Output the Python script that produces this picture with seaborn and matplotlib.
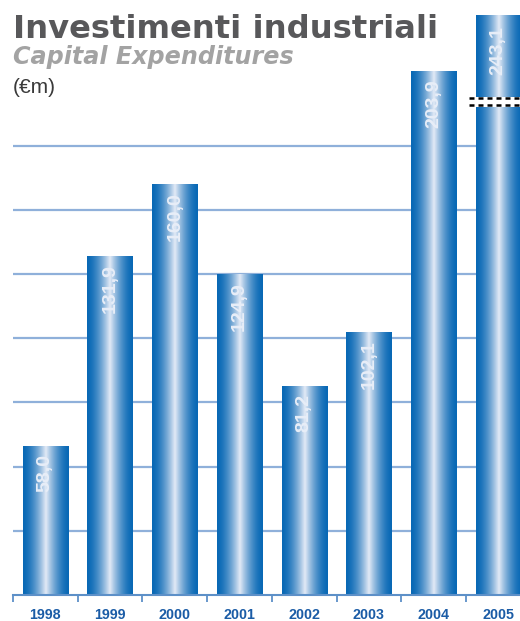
import numpy as np
import pandas as pd
import matplotlib
matplotlib.use("Agg")
import matplotlib.pyplot as plt
import seaborn as sns
from matplotlib.colors import to_rgb

# Capital expenditures, € millions
years = ["1998", "1999", "2000", "2001", "2002", "2003", "2004", "2005"]
capex = [58.0, 131.9, 160.0, 124.9, 81.2, 102.1, 203.9, 243.1]
value_labels = ["58,0", "131,9", "160,0", "124,9", "81,2", "102,1", "203,9", "243,1"]
grid_values = [25, 50, 75, 100, 125, 150, 175]

title = "Investimenti industriali"
subtitle = "Capital Expenditures"
unit = "(€m)"

sns.set_theme(style="white")
plt.rcParams["font.family"] = ["Liberation Sans", "DejaVu Sans"]

W, H = 520, 621
fig = plt.figure(figsize=(W / 100, H / 100), dpi=100)
ax = fig.add_axes([13 / W, 26 / H, 517.6 / W, 580 / H])

df = pd.DataFrame({"year": years, "capex": capex})
sns.barplot(data=df, x="year", y="capex", ax=ax, width=0.7,
            color="#1070b8", saturation=1, zorder=2)

# visible value range; the last bar runs past the top and is drawn broken
ymax = 225.9

# cylindrical shading: saturated blue edges, pale highlight in the middle
edge = np.array(to_rgb("#0868b5"))
center = np.array(to_rgb("#e3eaf6"))
t = np.linspace(0, 1, 256)
d = np.abs(t - 0.5) * 2
wgt = (1 - d) ** 1.6
grad = edge[None, :] * (1 - wgt[:, None]) + center[None, :] * wgt[:, None]
img = grad[None, :, :]
for p in list(ax.patches):
    x0, y0 = p.get_x(), p.get_y()
    bw, bh = p.get_width(), p.get_height()
    ax.imshow(img, extent=[x0, x0 + bw, y0, y0 + bh], aspect="auto",
              interpolation="bilinear", zorder=2)
    p.set_visible(False)

ax.set_xlim(-0.5, 7.5)
ax.set_ylim(0, ymax)

# value labels, rotated, just under each bar's top
for i, (v, lab) in enumerate(zip(capex, value_labels)):
    top = min(v, ymax - 1.2)
    ax.text(i, top - 3.0, lab, rotation=90, ha="center", va="top",
            color="#e8eef8", fontsize=14, fontweight="bold", zorder=4)

# break marks across the clipped bar
brk_x0 = 6.55
ax.fill_between([brk_x0, 7.5], 190.0, 194.0, color="white", lw=0, zorder=5)
for yb in (193.4, 190.8):
    ax.plot([brk_x0, 7.5], [yb, yb], color="black", lw=1.8,
            ls=(0, (2.0, 1.6)), zorder=6)

# horizontal grid
ax.set_yticks(grid_values)
ax.yaxis.grid(True, color="#8fb0da", lw=1.6)
ax.xaxis.grid(False)
ax.set_axisbelow(True)
ax.tick_params(axis="y", length=0, labelleft=False)

for s in ("left", "right", "top"):
    ax.spines[s].set_visible(False)
ax.spines["bottom"].set_color("#5d90c8")
ax.spines["bottom"].set_linewidth(1.5)

ax.set_xticks(range(len(years)))
ax.set_xticklabels(years, fontweight="bold")
ax.set_xticks(np.arange(-0.5, len(years), 1), minor=True)
ax.tick_params(axis="x", which="major", bottom=True, length=0, pad=9.5,
               labelsize=10.3, labelcolor="#1b5ca6")
ax.tick_params(axis="x", which="minor", bottom=True, length=5, width=1.3,
               color="#5d90c8", direction="out")
ax.set_xlabel("")
ax.set_ylabel("")

# heading
t1 = fig.text(13 / W, 1 - 38 / H, title, fontsize=22, fontweight="heavy",
              family="DejaVu Sans", color="#58585a", va="baseline")
t2 = fig.text(13 / W, 1 - 64 / H, subtitle, fontsize=15, fontweight="bold",
              style="italic", family="DejaVu Sans", color="#a3a3a3", va="baseline")
t3 = fig.text(13 / W, 1 - 93 / H, unit, fontsize=15, color="#3a3a3a",
              va="baseline")

fig.canvas.draw()
for txt, target in ((t1, 424), (t2, 282)):
    bb = txt.get_window_extent()
    txt.set_fontsize(txt.get_fontsize() * target / bb.width)

fig.savefig("out.png", dpi=100)
